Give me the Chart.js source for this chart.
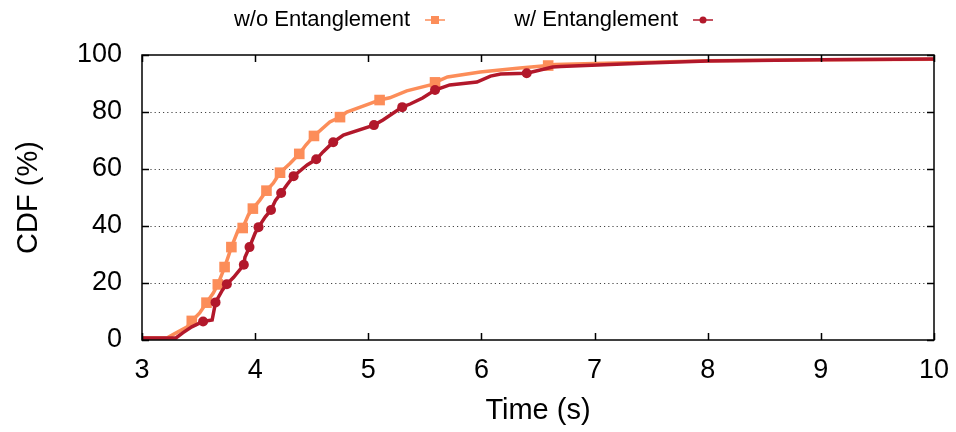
<!DOCTYPE html>
<html>
<head>
<meta charset="utf-8">
<script src="https://cdn.jsdelivr.net/npm/chart.js@4/dist/chart.umd.min.js"></script>
<style>
  html, body { margin: 0; padding: 0; background: #fff; }
  #wrap { width: 956px; height: 432px; }
</style>
</head>
<body>
<div id="wrap"><canvas id="cdf" width="956" height="432"></canvas></div>
<script>
// CDF of completion time, with and without entanglement
const woX = [3.0, 3.22, 3.27, 3.40, 3.44, 3.51, 3.57, 3.63, 3.67, 3.71, 3.73, 3.76, 3.79, 3.85, 3.89, 3.94, 3.98, 4.04, 4.10, 4.16, 4.22, 4.31, 4.39, 4.45, 4.52, 4.66, 4.75, 4.81, 5.02, 5.10, 5.19, 5.34, 5.55, 5.59, 5.70, 5.99, 6.34, 6.59, 6.65, 7.0, 7.5, 8.0, 9.0, 10.0];
const woY = [0.7, 0.7, 1.8, 4.6, 6.7, 9.5, 13.1, 16.5, 19.5, 23.5, 25.6, 29.0, 32.6, 38.6, 39.3, 43.9, 46.1, 49.0, 52.4, 55.0, 58.7, 62.0, 65.3, 68.5, 71.6, 76.5, 78.2, 80.0, 83.0, 84.2, 85.0, 87.4, 89.5, 90.4, 92.3, 94.0, 95.4, 96.3, 96.7, 97.0, 97.5, 98.0, 98.3, 98.5];
const wX = [3.0, 3.30, 3.36, 3.44, 3.54, 3.62, 3.65, 3.71, 3.75, 3.81, 3.90, 3.91, 3.95, 4.00, 4.03, 4.09, 4.14, 4.18, 4.23, 4.28, 4.34, 4.46, 4.54, 4.60, 4.69, 4.78, 5.05, 5.13, 5.30, 5.37, 5.48, 5.59, 5.72, 5.96, 6.08, 6.17, 6.40, 6.63, 6.70, 7.47, 8.0, 9.0, 10.0];
const wY = [0.7, 0.7, 2.5, 4.6, 6.5, 7.0, 13.2, 17.5, 19.6, 22.0, 26.4, 29.0, 32.6, 37.5, 39.6, 43.2, 45.6, 49.0, 51.6, 54.4, 57.5, 61.4, 63.4, 66.0, 69.4, 71.9, 75.4, 77.2, 81.7, 82.8, 84.9, 87.7, 89.5, 90.5, 92.6, 93.3, 93.6, 95.8, 96.0, 97.2, 97.9, 98.3, 98.6];

// marker positions (every Nth sample)
const woMarkX = [3.44, 3.57, 3.67, 3.73, 3.79, 3.89, 3.98, 4.10, 4.22, 4.39, 4.52, 4.75, 5.10, 5.59, 6.59];
const woMarkY = [6.7, 13.1, 19.5, 25.6, 32.6, 39.3, 46.1, 52.4, 58.7, 65.3, 71.6, 78.2, 84.2, 90.4, 96.3];
const wMarkX = [3.54, 3.65, 3.75, 3.90, 3.95, 4.03, 4.14, 4.23, 4.34, 4.54, 4.69, 5.05, 5.30, 5.59, 6.40];
const wMarkY = [6.5, 13.2, 19.6, 26.4, 32.6, 39.6, 45.6, 51.6, 57.5, 63.4, 69.4, 75.4, 81.7, 87.7, 93.6];

const xTicks = [3, 4, 5, 6, 7, 8, 9, 10];
const yTicks = [0, 20, 40, 60, 80, 100];
const seriesNames = ["w/o Entanglement", "w/ Entanglement"];

const ORANGE = "#fc8d59";
const RED = "#b2182b";
const FONT = "'Liberation Sans', Arial, Helvetica, sans-serif";

const pts = (xs, ys) => xs.map((x, i) => ({ x: x, y: ys[i] }));

// gnuplot-style frame: dotted grid, inward ticks on all sides, border
const framePlugin = {
  id: "frame",
  beforeDatasetsDraw(chart) {
    const { ctx, chartArea: a, scales } = chart;
    ctx.save();
    ctx.strokeStyle = "#444";
    ctx.lineWidth = 1;
    ctx.setLineDash([1.2, 3]);
    yTicks.forEach(v => {
      if (v === 0 || v === 100) return;
      const y = Math.round(scales.y.getPixelForValue(v)) + 0.5;
      ctx.beginPath();
      ctx.moveTo(a.left, y);
      ctx.lineTo(a.right, y);
      ctx.stroke();
    });
    ctx.restore();
  },
  afterDatasetsDraw(chart) {
    const { ctx, chartArea: a, scales } = chart;
    ctx.save();
    ctx.strokeStyle = "#000";
    ctx.lineWidth = 1.5;
    ctx.setLineDash([]);
    const len = 7;
    xTicks.forEach(v => {
      const x = Math.round(scales.x.getPixelForValue(v)) + 0.5;
      ctx.beginPath();
      ctx.moveTo(x, a.bottom); ctx.lineTo(x, a.bottom - len);
      ctx.moveTo(x, a.top); ctx.lineTo(x, a.top + len);
      ctx.stroke();
    });
    yTicks.forEach(v => {
      const y = Math.round(scales.y.getPixelForValue(v)) + 0.5;
      ctx.beginPath();
      ctx.moveTo(a.left, y); ctx.lineTo(a.left + len, y);
      ctx.moveTo(a.right, y); ctx.lineTo(a.right - len, y);
      ctx.stroke();
    });
    ctx.strokeRect(a.left, a.top, a.right - a.left, a.bottom - a.top);

    // axis titles
    ctx.fillStyle = "#000";
    ctx.font = "29px " + FONT;
    ctx.textAlign = "center";
    ctx.textBaseline = "middle";
    ctx.fillText("Time (s)", (a.left + a.right) / 2, 411);
    ctx.translate(29, (a.top + a.bottom) / 2);
    ctx.rotate(-Math.PI / 2);
    ctx.fillText("CDF (%)", 0, 0);
    ctx.restore();

    // key along the top: text right-aligned, then a short sample
    ctx.save();
    ctx.font = "22px " + FONT;
    ctx.textAlign = "right";
    ctx.textBaseline = "middle";
    ctx.fillStyle = "#000";
    const keys = [
      { label: seriesNames[0], textRight: 410, color: ORANGE, shape: "rect" },
      { label: seriesNames[1], textRight: 678, color: RED, shape: "circle" }
    ];
    keys.forEach(k => {
      const y = 20;
      ctx.fillText(k.label, k.textRight, y);
      const x0 = k.textRight + 15, x1 = x0 + 20, xm = (x0 + x1) / 2;
      ctx.strokeStyle = k.color;
      ctx.lineWidth = 1.5;
      ctx.beginPath();
      ctx.moveTo(x0, y); ctx.lineTo(x1, y);
      ctx.stroke();
      ctx.fillStyle = k.color;
      if (k.shape === "rect") {
        ctx.fillRect(xm - 4, y - 4, 8, 8);
      } else {
        ctx.beginPath();
        ctx.arc(xm, y, 3.5, 0, Math.PI * 2);
        ctx.fill();
      }
      ctx.fillStyle = "#000";
    });
    ctx.restore();
  }
};

new Chart(document.getElementById("cdf"), {
  type: "scatter",
  data: {
    datasets: [
      {
        label: seriesNames[0],
        data: pts(woX, woY),
        showLine: true,
        borderColor: ORANGE,
        borderWidth: 3.5,
        pointRadius: 0,
        tension: 0,
        order: 4
      },
      {
        label: seriesNames[0] + " markers",
        data: pts(woMarkX, woMarkY),
        showLine: false,
        pointStyle: "rect",
        pointRadius: 7.5,
        backgroundColor: ORANGE,
        borderWidth: 0,
        order: 3
      },
      {
        label: seriesNames[1],
        data: pts(wX, wY),
        showLine: true,
        borderColor: RED,
        borderWidth: 3.5,
        pointRadius: 0,
        tension: 0,
        order: 2
      },
      {
        label: seriesNames[1] + " markers",
        data: pts(wMarkX, wMarkY),
        showLine: false,
        pointStyle: "circle",
        pointRadius: 5,
        backgroundColor: RED,
        borderWidth: 0,
        order: 1
      }
    ]
  },
  options: {
    responsive: false,
    animation: false,
    layout: { padding: { top: 55, right: 22, left: 0, bottom: 0 } },
    plugins: { legend: { display: false }, tooltip: { enabled: false } },
    scales: {
      x: {
        type: "linear",
        min: 3,
        max: 10,
        afterFit: s => { s.height = 92; s.paddingLeft = 0; s.paddingRight = 0; },
        afterBuildTicks: s => { s.ticks = xTicks.map(v => ({ value: v })); },
        grid: { display: false, drawTicks: false },
        border: { display: false },
        ticks: { padding: 14, color: "#000", font: { family: FONT, size: 27 } }
      },
      y: {
        type: "linear",
        min: 0,
        max: 100,
        afterFit: s => { s.width = 142; s.paddingTop = 0; s.paddingBottom = 0; },
        afterBuildTicks: s => { s.ticks = yTicks.map(v => ({ value: v })); },
        grid: { display: false, drawTicks: false },
        border: { display: false },
        ticks: { padding: 20, color: "#000", font: { family: FONT, size: 27 } }
      }
    }
  },
  plugins: [framePlugin]
});
</script>
</body>
</html>
